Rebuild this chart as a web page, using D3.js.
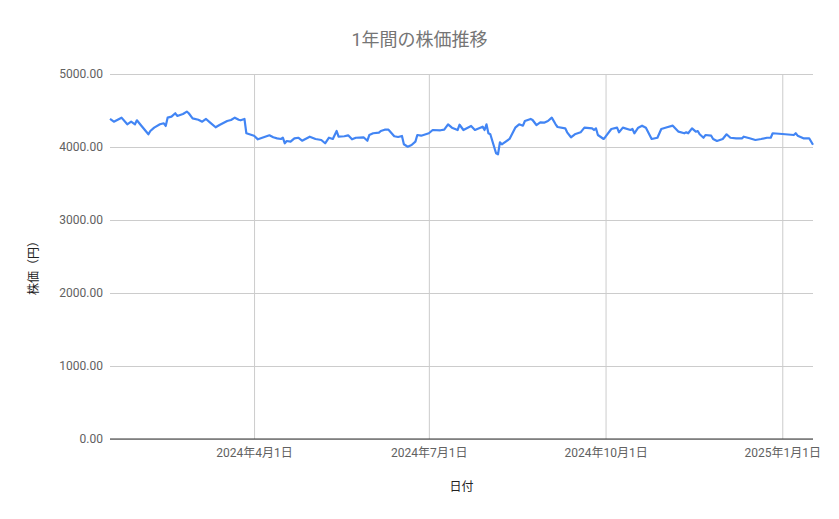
<!DOCTYPE html>
<html>
<head>
<meta charset="utf-8">
<script src="https://cdn.jsdelivr.net/npm/d3@7"></script>
<style>
  body { margin: 0; background: #fff; }
  text { font-family: Roboto, "Noto Sans CJK JP", sans-serif; }
</style>
</head>
<body>
<div id="chart"></div>
<script>
// Chart data
const dates = [
  "2024-01-17","2024-01-19","2024-01-23","2024-01-26","2024-01-28","2024-01-30","2024-01-31",
  "2024-02-02","2024-02-06","2024-02-07","2024-02-09","2024-02-12","2024-02-14","2024-02-15",
  "2024-02-16","2024-02-18","2024-02-20","2024-02-21","2024-02-24","2024-02-26","2024-02-27",
  "2024-02-29","2024-03-03","2024-03-05","2024-03-07","2024-03-09","2024-03-12","2024-03-14",
  "2024-03-18","2024-03-20","2024-03-22","2024-03-24","2024-03-25","2024-03-27","2024-03-28",
  "2024-04-01","2024-04-03","2024-04-06","2024-04-09","2024-04-11","2024-04-13","2024-04-15",
  "2024-04-16","2024-04-17","2024-04-18","2024-04-20","2024-04-22","2024-04-24","2024-04-26",
  "2024-04-30","2024-05-03","2024-05-06","2024-05-08","2024-05-10","2024-05-12","2024-05-14",
  "2024-05-15","2024-05-18","2024-05-20","2024-05-22","2024-05-24","2024-05-28","2024-05-30",
  "2024-05-31","2024-06-02","2024-06-05","2024-06-06","2024-06-08","2024-06-10","2024-06-13",
  "2024-06-15","2024-06-17","2024-06-18","2024-06-20","2024-06-22","2024-06-24","2024-06-25",
  "2024-06-27","2024-07-01","2024-07-03","2024-07-07","2024-07-09","2024-07-11","2024-07-13",
  "2024-07-16","2024-07-17","2024-07-19","2024-07-23","2024-07-25","2024-07-29","2024-07-30",
  "2024-07-31","2024-08-01","2024-08-02","2024-08-05","2024-08-06","2024-08-07","2024-08-08",
  "2024-08-12","2024-08-15","2024-08-17","2024-08-19","2024-08-20","2024-08-23","2024-08-24",
  "2024-08-26","2024-08-28","2024-08-30","2024-09-01","2024-09-03","2024-09-05","2024-09-06",
  "2024-09-10","2024-09-11","2024-09-13","2024-09-15","2024-09-18","2024-09-20","2024-09-24",
  "2024-09-25","2024-09-26","2024-09-27","2024-09-30","2024-10-01","2024-10-04","2024-10-07",
  "2024-10-08","2024-10-10","2024-10-14","2024-10-15","2024-10-16","2024-10-18","2024-10-20",
  "2024-10-22","2024-10-25","2024-10-28","2024-10-30","2024-11-02","2024-11-05","2024-11-08",
  "2024-11-11","2024-11-12","2024-11-13","2024-11-15","2024-11-17","2024-11-18","2024-11-19",
  "2024-11-21","2024-11-22","2024-11-25","2024-11-26","2024-11-28","2024-12-01","2024-12-03",
  "2024-12-05","2024-12-08","2024-12-11","2024-12-12","2024-12-15","2024-12-18","2024-12-21",
  "2024-12-24","2024-12-26","2024-12-27","2025-01-01","2025-01-07","2025-01-08","2025-01-09",
  "2025-01-12","2025-01-15","2025-01-17"
];
const prices = [
  4384,4347,4402,4311,4347,4311,4366,
  4301,4174,4219,4265,4311,4325,4288,
  4402,4416,4462,4425,4452,4484,4462,
  4393,4374,4347,4384,4338,4270,4301,
  4356,4370,4402,4374,4366,4384,4188,
  4155,4105,4133,4160,4133,4119,4110,
  4127,4051,4082,4073,4119,4127,4086,
  4141,4110,4096,4051,4127,4110,4219,
  4141,4147,4160,4105,4127,4133,4086,
  4164,4188,4196,4219,4237,4237,4147,
  4137,4151,4037,4004,4027,4073,4164,
  4155,4188,4233,4229,4237,4311,4265,
  4233,4305,4233,4288,4233,4279,4233,
  4311,4188,4174,3914,3900,4064,4037,
  4110,4265,4311,4292,4356,4384,4370,
  4301,4338,4333,4356,4402,4311,4274,
  4256,4201,4133,4174,4201,4265,4256,
  4233,4256,4164,4110,4141,4247,4265,
  4201,4265,4233,4247,4188,4265,4292,
  4265,4110,4127,4247,4270,4292,4210,
  4188,4201,4188,4256,4210,4219,4174,
  4127,4164,4155,4110,4082,4110,4174,
  4127,4119,4119,4141,4119,4096,4110,
  4127,4127,4188,4178,4164,4188,4155,
  4119,4119,4030
];
const yTicks = [0, 1000, 2000, 3000, 4000, 5000];
const xTicks = ["2024-04-01", "2024-07-01", "2024-10-01", "2025-01-01"];
const titleText = "1年間の株価推移";
const xTitle = "日付";
const yTitle = "株価（円）";

const width = 839, height = 519;
const margin = {top: 74, right: 26, bottom: 80, left: 110};

const parse = d3.timeParse("%Y-%m-%d");
const data = dates.map((d, i) => ({date: parse(d), price: prices[i]}));

const svg = d3.select("#chart")
              .append("svg")
              .attr("width", width)
              .attr("height", height)
              .attr("viewBox", [0, 0, width, height]);

const xScale = d3.scaleTime()
                 .domain([parse("2024-01-17"), parse("2025-01-17")])
                 .range([margin.left, width - margin.right]);

const yScale = d3.scaleLinear()
                 .domain([0, 5000])
                 .range([height - margin.bottom, margin.top]);

const y0 = yScale(0);

// horizontal gridlines + y labels
const yAxis = svg.append("g")
    .attr("transform", `translate(${margin.left},0)`)
    .call(d3.axisLeft(yScale)
            .tickValues(yTicks)
            .tickSize(-(width - margin.left - margin.right))
            .tickPadding(7)
            .tickFormat(d3.format(".2f")));
yAxis.select(".domain").remove();
yAxis.selectAll(".tick line").attr("stroke", "#cccccc");
yAxis.selectAll(".tick text")
     .attr("fill", "#616161")
     .attr("font-size", "12px")
     .attr("font-family", "Roboto, sans-serif");

// vertical gridlines + x labels
const xAxis = svg.append("g")
    .attr("transform", `translate(0,${y0})`)
    .call(d3.axisBottom(xScale)
            .tickValues(xTicks.map(parse))
            .tickSize(-(y0 - margin.top))
            .tickPadding(9)
            .tickFormat(d3.timeFormat("%Y年%-m月%-d日")));
xAxis.select(".domain").remove();
xAxis.selectAll(".tick line").attr("stroke", "#cccccc");
xAxis.selectAll(".tick text")
     .attr("fill", "#616161")
     .attr("font-size", "12px");

// baseline
svg.append("line")
   .attr("x1", margin.left)
   .attr("x2", width - margin.right)
   .attr("y1", y0)
   .attr("y2", y0)
   .attr("stroke", "#333333")
   .attr("stroke-width", 1);

// price line
const line = d3.line()
               .x(d => xScale(d.date))
               .y(d => yScale(d.price));

svg.append("path")
   .datum(data)
   .attr("fill", "none")
   .attr("stroke", "#4285f4")
   .attr("stroke-width", 2.2)
   .attr("stroke-linejoin", "round")
   .attr("d", line);

// titles
svg.append("text")
   .attr("x", width / 2)
   .attr("y", 46)
   .attr("text-anchor", "middle")
   .attr("fill", "#757575")
   .attr("font-size", "18px")
   .text(titleText);

svg.append("text")
   .attr("x", (margin.left + width - margin.right) / 2)
   .attr("y", 491)
   .attr("text-anchor", "middle")
   .attr("fill", "#222222")
   .attr("font-size", "12px")
   .text(xTitle);

svg.append("text")
   .attr("transform", "translate(38,265) rotate(-90)")
   .attr("text-anchor", "middle")
   .attr("fill", "#222222")
   .attr("font-size", "12px")
   .text(yTitle);
</script>
</body>
</html>
